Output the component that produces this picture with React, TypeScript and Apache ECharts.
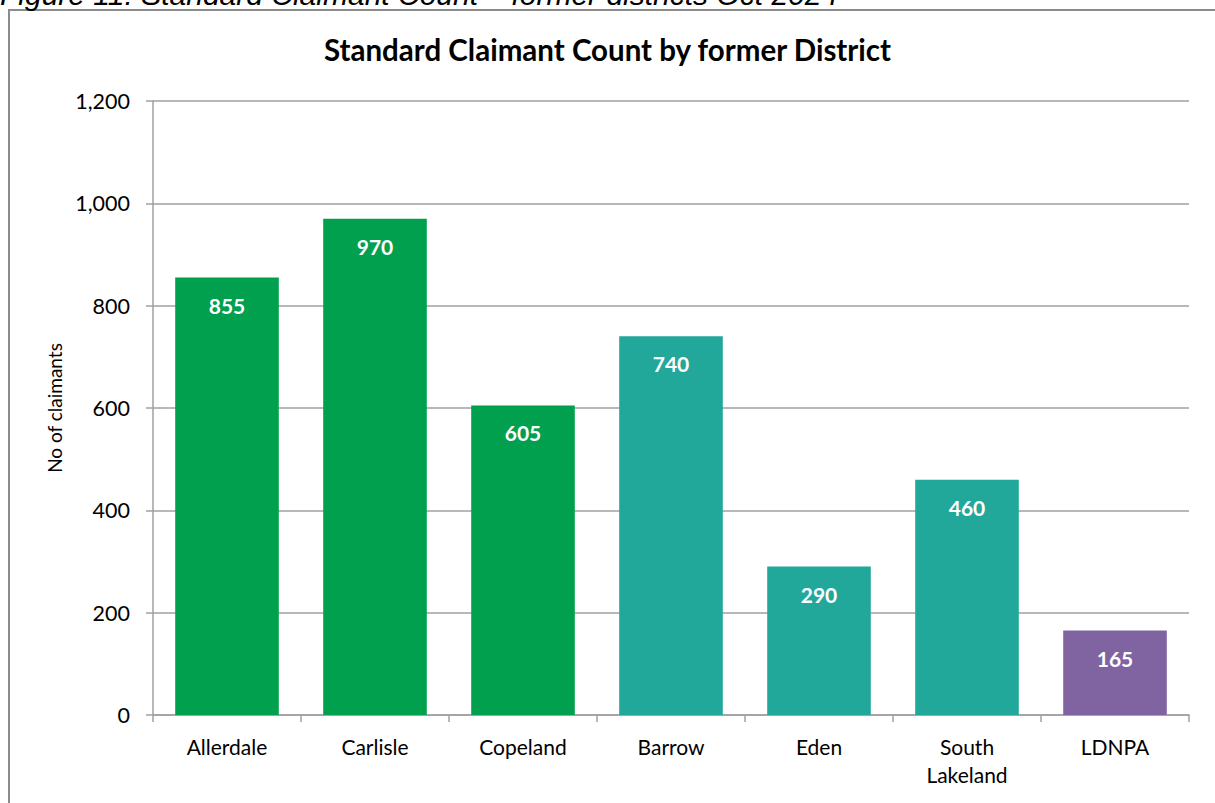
import React, { useEffect, useRef } from "react";
import * as echarts from "echarts";

const categories = ["Allerdale", "Carlisle", "Copeland", "Barrow", "Eden", "South\nLakeland", "LDNPA"];
const values = [855, 970, 605, 740, 290, 460, 165];
const barColors = ["#00A04F", "#00A04F", "#00A04F", "#22A79B", "#22A79B", "#22A79B", "#8064A2"];

const FONT = "Lato, 'Noto Sans', sans-serif";

export default function App() {
  const ref = useRef<HTMLDivElement>(null);
  useEffect(() => {
    if (!ref.current) return;
    const chart = echarts.init(ref.current, undefined, { renderer: "svg" });
    chart.setOption({
      animation: false,
      backgroundColor: "#ffffff",
      title: {
        text: "Standard Claimant Count by former District",
        left: "center",
        top: 29,
        textStyle: { fontFamily: FONT, fontWeight: "bold", fontSize: 29.5, color: "#000" },
      },
      graphic: [
        {
          type: "rect",
          shape: { x: 9, y: 10, width: 1215, height: 800 },
          style: { fill: "none", stroke: "#8c8c8c", lineWidth: 2 },
          silent: true,
        },
        {
          type: "text",
          x: 0,
          y: -21,
          style: {
            text: "Figure 11: Standard Claimant Count \u2013 former districts Oct 2024",
            fontFamily: "'Liberation Sans', Arial, sans-serif",
            fontStyle: "italic",
            fontSize: 30,
            fill: "#000",
          },
        },
      ],
      grid: { left: 153, right: 26, top: 101, bottom: 88 },
      xAxis: {
        type: "category",
        data: categories,
        axisLine: { lineStyle: { color: "#a0a0a0", width: 1.5 } },
        axisTick: { show: true, length: 7, interval: 0, lineStyle: { color: "#a0a0a0", width: 1.5 } },
        axisLabel: { interval: 0, fontFamily: FONT, fontSize: 21, color: "#000", margin: 17, lineHeight: 28 },
      },
      yAxis: {
        type: "value",
        min: 0,
        max: 1200,
        interval: 200,
        name: "No of claimants",
        nameLocation: "middle",
        nameGap: 88,
        nameTextStyle: { fontFamily: FONT, fontSize: 19, color: "#000" },
        axisLine: { show: true, lineStyle: { color: "#a0a0a0", width: 1.5 } },
        axisTick: { show: true, length: 7, lineStyle: { color: "#a0a0a0", width: 1.5 } },
        splitLine: { lineStyle: { color: "#a0a0a0", width: 1.5 } },
        axisLabel: {
          fontFamily: FONT,
          fontSize: 21.5,
          color: "#000",
          margin: 23,
          formatter: (v: number) => v.toLocaleString("en-GB"),
        },
      },
      series: [
        {
          type: "bar",
          barCategoryGap: "30%",
          data: values.map((v, i) => ({ value: v, itemStyle: { color: barColors[i] } })),
          label: {
            show: true,
            position: "insideTop",
            distance: 17,
            fontFamily: FONT,
            fontWeight: "bold",
            fontSize: 21,
            color: "#fff",
          },
        },
      ],
    });
    return () => chart.dispose();
  }, []);
  return (
    <div
      ref={ref}
      style={{ position: "fixed", left: 0, top: 0, width: 1215, height: 803 }}
    />
  );
}
